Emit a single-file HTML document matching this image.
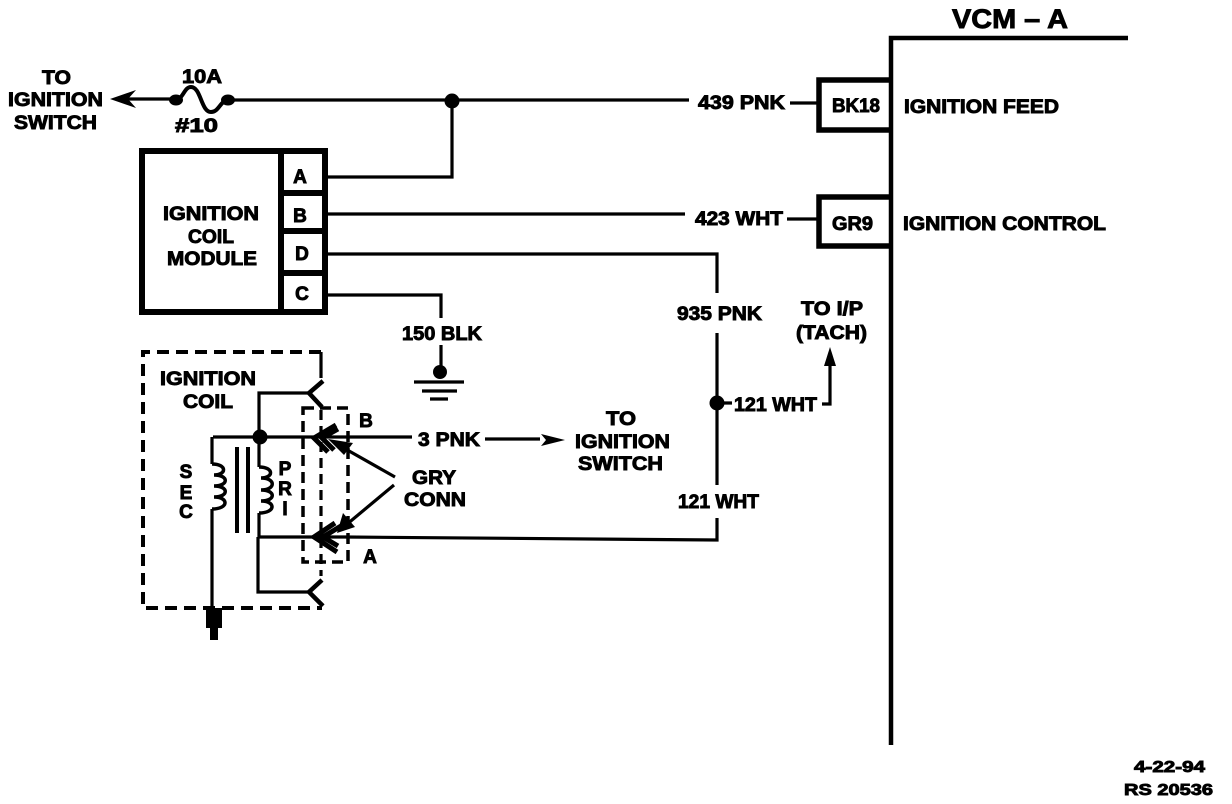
<!DOCTYPE html>
<html><head><meta charset="utf-8"><style>
html,body{margin:0;padding:0;background:#fff}
svg{display:block}
text{font-family:"Liberation Sans",sans-serif;font-weight:bold;fill:#000;stroke:#000;stroke-width:.9px;font-size:19px}
.m{text-anchor:middle}
path,line,rect,polyline{fill:none;stroke:#000}
.w{stroke-width:3.2}
.f{fill:#000;stroke:none}
</style></head><body>
<svg width="1232" height="804" viewBox="0 0 1232 804" xmlns="http://www.w3.org/2000/svg">
<!-- VCM bar -->
<path d="M1128 38H891V745" stroke-width="4.5"/>
<text x="952" y="28" textLength="116" lengthAdjust="spacingAndGlyphs" style="font-size:27px">VCM – A</text>
<!-- top wire -->
<path class="w" d="M125 99H175"/>
<path class="f" d="M110 99L136 90L128 99L136 108Z"/>
<ellipse cx="176" cy="100" rx="7" ry="5.5" class="f"/><ellipse cx="228" cy="100" rx="7" ry="5.5" class="f"/>
<path d="M176 100C184 98 184 87 191 87C201 87 201 112 211 112C219 112 220 101 228 100" stroke-width="4"/>
<path class="w" d="M229 100H689M790 103H818"/>
<circle cx="452" cy="101" r="7.5" class="f"/>
<path class="w" d="M452 101V177H327"/>
<text x="42" y="84" textLength="29" lengthAdjust="spacingAndGlyphs">TO</text>
<text x="8" y="106" textLength="95" lengthAdjust="spacingAndGlyphs">IGNITION</text>
<text x="14" y="129" textLength="83" lengthAdjust="spacingAndGlyphs">SWITCH</text>
<text x="182" y="83" textLength="40" lengthAdjust="spacingAndGlyphs">10A</text>
<text x="175" y="132" textLength="43" lengthAdjust="spacingAndGlyphs">#10</text>
<text x="698" y="109" textLength="87" lengthAdjust="spacingAndGlyphs">439 PNK</text>
<!-- BK18 -->
<path stroke-width="5.5" d="M891 80H819V130H891"/>
<text x="832" y="112" textLength="48" lengthAdjust="spacingAndGlyphs">BK18</text>
<text x="904" y="113" textLength="155" lengthAdjust="spacingAndGlyphs">IGNITION FEED</text>
<!-- GR9 -->
<path stroke-width="5.5" d="M891 197H819V246H891"/>
<text x="832" y="230" textLength="41" lengthAdjust="spacingAndGlyphs">GR9</text>
<text x="903" y="230" textLength="203" lengthAdjust="spacingAndGlyphs">IGNITION CONTROL</text>
<!-- module -->
<rect x="142" y="151" width="183" height="161" stroke-width="6"/>
<path stroke-width="6" d="M281 151V312"/>
<path stroke-width="6" d="M281 193H325M281 231H325M281 273H325"/>
<text x="163" y="220" textLength="96" lengthAdjust="spacingAndGlyphs">IGNITION</text>
<text x="188" y="243" textLength="46" lengthAdjust="spacingAndGlyphs">COIL</text>
<text x="167" y="265" textLength="90" lengthAdjust="spacingAndGlyphs">MODULE</text>
<text x="300" y="183" class="m">A</text>
<text x="300" y="222" class="m">B</text>
<text x="302" y="260" class="m">D</text>
<text x="302" y="300" class="m">C</text>
<!-- wires from module -->
<path class="w" d="M327 214H685M787 219H818"/>
<text x="695" y="225" textLength="88" lengthAdjust="spacingAndGlyphs">423 WHT</text>
<path class="w" d="M327 254H717V293"/>
<text x="677" y="320" textLength="85" lengthAdjust="spacingAndGlyphs">935 PNK</text>
<path class="w" d="M717 333V485M717 518V540L345 537"/>
<circle cx="717" cy="403" r="7.5" class="f"/>
<path class="w" d="M717 403H732M822 404H830V362"/>
<path class="f" d="M830 347L836 366H824Z"/>
<text x="734" y="411" textLength="83" lengthAdjust="spacingAndGlyphs">121 WHT</text>
<text x="801" y="315" textLength="62" lengthAdjust="spacingAndGlyphs">TO I/P</text>
<text x="796" y="339" textLength="71" lengthAdjust="spacingAndGlyphs">(TACH)</text>
<text x="678" y="508" textLength="81" lengthAdjust="spacingAndGlyphs">121 WHT</text>
<!-- ground -->
<path class="w" d="M327 295H441V318"/>
<text x="402" y="340" textLength="80" lengthAdjust="spacingAndGlyphs">150 BLK</text>
<path class="w" d="M441 345V372"/>
<circle cx="440" cy="372" r="7" class="f"/>
<path stroke-width="3.2" d="M414 382H464M422 391H457M430 399H448"/>
<!-- ignition coil dashed box -->
<path stroke-width="4" stroke-dasharray="12 7" d="M321 352H143V608H322"/>
<text x="160" y="385" textLength="96" lengthAdjust="spacingAndGlyphs">IGNITION</text>
<text x="183" y="408" textLength="50" lengthAdjust="spacingAndGlyphs">COIL</text>
<path class="w" d="M321 352V378"/>
<!-- Top and bottom terminals -->
<path class="w" d="M259 437V393H308"/>
<path stroke-width="4.5" d="M323 381L309 393L322 407"/>
<path class="w" d="M258 537V592H308"/>
<path stroke-width="4.5" d="M322 580L309 592L323 606"/>
<!-- coil wires -->
<path class="w" d="M213 437H412"/>
<circle cx="260" cy="437" r="7.5" class="f"/>
<path class="w" d="M212 437V464M212 509V608"/>
<path stroke-width="3.5" d="M212 464c15 0 15 11 2 11c15 0 15 11 0 11c15 0 15 11 0 11c15 0 15 12 -2 12"/>
<path class="w" d="M259 437V467M259 513V537H345"/>
<path stroke-width="3.5" d="M259 467c15 0 15 11 2 11c15 0 15 12 0 12c15 0 15 11 0 11c15 0 15 12 -2 12"/>
<path stroke-width="4" d="M237 447V533M248 447V533"/>
<text x="186" y="478" class="m">S</text><text x="186" y="499" class="m">E</text><text x="186" y="518" class="m">C</text>
<text x="285" y="475" class="m">P</text><text x="285" y="495" class="m">R</text><text x="285" y="515" class="m">I</text>
<path class="f" d="M206 608H222V628H218V640H210V628H206Z"/>
<!-- gray conn dashed -->
<path stroke-width="3.5" stroke-dasharray="11 6" d="M303 408H348V562H303Z"/>
<path stroke-width="3.2" stroke-dasharray="10 6" d="M321 410V576"/>
<path stroke-width="5" d="M336 425L314 438L328 452M338 429L322 438L334 450"/>
<path stroke-width="5" d="M335 523L314 537L337 552M341 526L323 537L338 546"/>
<text x="366" y="427" class="m">B</text>
<text x="370" y="563" class="m">A</text>
<!-- 3 PNK -->
<path class="w" d="M485 439H540"/>
<path class="f" d="M565 440L541 434L546 440L541 446Z"/>
<text x="418" y="446" textLength="62" lengthAdjust="spacingAndGlyphs">3 PNK</text>
<text x="606" y="425" textLength="30" lengthAdjust="spacingAndGlyphs">TO</text>
<text x="575" y="448" textLength="95" lengthAdjust="spacingAndGlyphs">IGNITION</text>
<text x="578" y="470" textLength="85" lengthAdjust="spacingAndGlyphs">SWITCH</text>
<!-- GRY CONN pointers -->
<path class="w" d="M395 477L342 447M394 485L346 525"/>
<path class="f" d="M328 439L353 443L344 455Z"/>
<path class="f" d="M337 533L343 513L355 527Z"/>
<text x="412" y="484" textLength="44" lengthAdjust="spacingAndGlyphs">GRY</text>
<text x="404" y="506" textLength="62" lengthAdjust="spacingAndGlyphs">CONN</text>
<text x="1134" y="772" textLength="71" lengthAdjust="spacingAndGlyphs" style="font-size:16px">4-22-94</text>
<text x="1124" y="795" textLength="89" lengthAdjust="spacingAndGlyphs" style="font-size:16px">RS 20536</text>
</svg>
</body></html>
